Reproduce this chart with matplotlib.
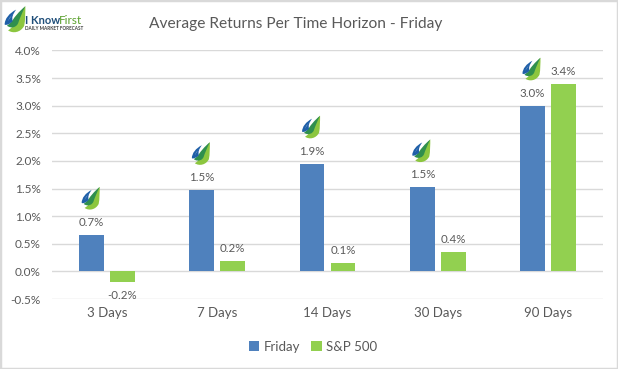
#!/usr/bin/env python
"""Average returns per time horizon, Friday vs S&P 500."""

import matplotlib.pyplot as plt
import numpy as np
from matplotlib.patches import PathPatch, Rectangle
from matplotlib.path import Path
from matplotlib.transforms import Affine2D

HORIZONS = ["3 Days", "7 Days", "14 Days", "30 Days", "90 Days"]
FRIDAY = [0.66, 1.47, 1.95, 1.52, 3.00]
SP500 = [-0.20, 0.19, 0.15, 0.35, 3.40]
FRIDAY_LABELS = ["0.7%", "1.5%", "1.9%", "1.5%", "3.0%"]
SP500_LABELS = ["-0.2%", "0.2%", "0.1%", "0.4%", "3.4%"]
Y_TICKS = [-0.5, 0.0, 0.5, 1.0, 1.5, 2.0, 2.5, 3.0, 3.5, 4.0]

W, H = 618, 369
BLUE = "#4f81bd"
GREEN = "#92d050"
TEXT = "#595959"
GRID = "#d9d9d9"

plt.rcParams["font.family"] = ["Lato", "DejaVu Sans"]

# swoosh outlines of the logo, in pixels around the centre, y up
SWOOSHES = [
    ("#8cc63f", [(-6, -9), (-2, -12), (5, -11), (8, -5), (9, 0), (9, 7), (9, 12),
                 (5, 8), (3, 3), (1, -1), (0, -4), (-3, -7), (-6, -9)]),
    ("#2f8f4e", [(-7, -5), (-3, -8), (2, -6), (3, -2), (4, 1), (6, 6), (9, 12),
                 (3, 7), (0, 3), (-2, 0), (-4, -3), (-6, -4), (-7, -5)]),
    ("#1f5fa8", [(-9, -4), (-9, 1), (-5, 6), (1, 9), (-2, 5), (-3, 2), (-2, -1),
                 (-4, -3), (-7, -5), (-9, -4)]),
    ("#ffffff", [(-6, -1), (-5, 2), (-3, 4), (-1, 6), (-4, 3), (-5, 1), (-6, -1)]),
]


def draw_logo(fig, cx, cy, scale=1.0):
    # cx, cy are display pixels
    tr = Affine2D().scale(scale).translate(cx, cy)
    for color, verts in SWOOSHES:
        codes = [Path.MOVETO] + [Path.CURVE4] * (len(verts) - 1)
        fig.add_artist(PathPatch(Path(verts, codes), facecolor=color, edgecolor="none", transform=tr))


def main():
    fig = plt.figure(figsize=(W / 100, H / 100), dpi=100, facecolor="white")
    ax = fig.add_axes([52 / W, 1 - 299 / H, 551 / W, 248.5 / H])

    x = np.arange(len(HORIZONS))
    width = 0.225
    offset = 0.14
    bars_a = ax.bar(x - offset, FRIDAY, width, color=BLUE, label="Friday")
    bars_b = ax.bar(x + offset, SP500, width, color=GREEN, label="S&P 500")

    ax.set_xlim(-0.5, len(HORIZONS) - 0.5)
    ax.set_ylim(-0.5, 4.0)
    ax.set_yticks(Y_TICKS)
    ax.set_yticklabels([f"{t:.1f}%" for t in Y_TICKS], fontsize=8.5, color=TEXT)
    ax.set_xticks(x)
    ax.set_xticklabels(HORIZONS, fontsize=9.5, color=TEXT)
    ax.tick_params(axis="both", length=0)
    ax.tick_params(axis="x", pad=6)
    ax.tick_params(axis="y", pad=8)
    ax.grid(axis="y", color=GRID, linewidth=1)
    ax.set_axisbelow(True)
    for spine in ax.spines.values():
        spine.set_visible(False)

    for bar, label in zip(bars_a, FRIDAY_LABELS):
        ax.annotate(label, (bar.get_x() + bar.get_width() / 2, bar.get_height()), xytext=(0, 7),
                    textcoords="offset pixels", ha="center", va="bottom", fontsize=8.3, color=TEXT)
    for bar, label, val in zip(bars_b, SP500_LABELS, SP500):
        if val < 0:
            ax.annotate(label, (bar.get_x() + bar.get_width() / 2, val), xytext=(0, -8),
                        textcoords="offset pixels", ha="center", va="top", fontsize=8.3, color=TEXT)
        else:
            ax.annotate(label, (bar.get_x() + bar.get_width() / 2, val), xytext=(0, 7),
                        textcoords="offset pixels", ha="center", va="bottom", fontsize=8.3, color=TEXT)

    for bar, val in zip(bars_a, FRIDAY):
        px, py = ax.transData.transform((bar.get_x() + bar.get_width() / 2, val))
        draw_logo(fig, px - 1, py + 36, 1.0)

    fig.text(296 / W, 1 - 24 / H, "Average Returns Per Time Horizon - Friday", ha="center", va="center",
             fontsize=11.2, color=TEXT)

    # company mark, top left
    draw_logo(fig, 15, H - 20, 1.15)
    fig.text(25 / W, 1 - 21 / H, "I Know", ha="left", va="center", fontsize=8, fontweight="bold", color="#1f4e79")
    fig.text(59 / W, 1 - 21 / H, "First", ha="left", va="center", fontsize=8.5, color="#5aa02c")
    fig.text(25 / W, 1 - 29 / H, "DAILY MARKET FORECAST", ha="left", va="center", fontsize=3.3,
             fontweight="bold", color="#404040")

    handles, labels = ax.get_legend_handles_labels()
    fig.legend(handles, labels, loc="center", bbox_to_anchor=(313 / W, 1 - 347 / H), ncol=2, frameon=False,
               fontsize=9.5, labelcolor=TEXT, handlelength=0.8, handleheight=0.8, handletextpad=0.35,
               columnspacing=0.8)

    fig.add_artist(Rectangle((0, 0), 1, 1, transform=fig.transFigure, fill=False, edgecolor=GRID, linewidth=2.5))
    fig.savefig("out.png", dpi=100)


if __name__ == "__main__":
    main()
